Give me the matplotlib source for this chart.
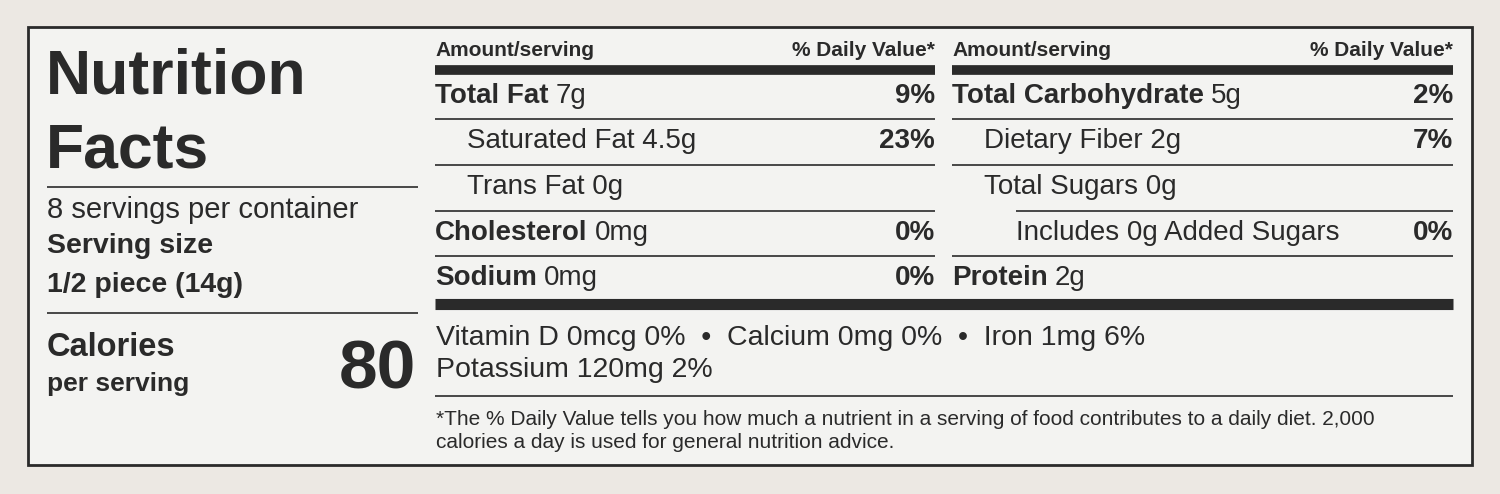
import matplotlib.pyplot as plt
from matplotlib.patches import Rectangle

INK = "#2a2a2a"
plt.rcParams["font.family"] = ["Liberation Sans", "DejaVu Sans"]

# ── data ─────────────────────────────────────────────
servings = "8 servings per container"
serving_size = "1/2 piece (14g)"
calories = "80"
left_names = ["Total Fat", "Saturated Fat", "Trans Fat", "Cholesterol", "Sodium"]
left_amts = ["7g", "4.5g", "0g", "0mg", "0mg"]
left_dv = ["9%", "23%", "", "0%", "0%"]
left_indent = [0, 1, 1, 0, 0]
right_names = ["Total Carbohydrate", "Dietary Fiber", "Total Sugars", "Includes 0g Added Sugars", "Protein"]
right_amts = ["5g", "2g", "0g", "", "2g"]
right_dv = ["2%", "7%", "", "0%", ""]
right_indent = [0, 1, 1, 2, 0]
vitamins_line1 = "Vitamin D 0mcg 0%  •  Calcium 0mg 0%  •  Iron 1mg 6%"
vitamins_line2 = "Potassium 120mg 2%"
footnote = ["*The % Daily Value tells you how much a nutrient in a serving of food contributes to a daily diet. 2,000",
            "calories a day is used for general nutrition advice."]

fig = plt.figure(figsize=(15, 4.94), dpi=100)
fig.patch.set_facecolor("#ece8e3")
ax = fig.add_axes([0, 0, 1, 1])
ax.set_xlim(0, 1500); ax.set_ylim(494, 0); ax.axis("off")
ax.add_patch(Rectangle((28, 27), 1444, 438, fc="#f3f3f1", ec=INK, lw=2))

def hline(y, x0, x1, lw):
    ax.plot([x0, x1], [y, y], color=INK, lw=lw, solid_capstyle="butt")

renderer = fig.canvas.get_renderer()
def rich(x, y, bold, rest, size):
    t = ax.text(x, y, bold, fontsize=size, fontweight="bold", color=INK, va="center")
    if rest:
        bb = t.get_window_extent(renderer)
        ax.text(x + bb.width + 7, y, rest, fontsize=size, color=INK, va="center")

# left block
ax.text(46, 77, "Nutrition", fontsize=45, fontweight="bold", color=INK, va="center")
ax.text(46, 151, "Facts", fontsize=45, fontweight="bold", color=INK, va="center")
hline(187, 47, 418, 1.2)
ax.text(47, 210, servings, fontsize=21, color=INK, va="center")
ax.text(47, 246, "Serving size", fontsize=20.5, fontweight="bold", color=INK, va="center")
ax.text(47, 285, serving_size, fontsize=20.5, fontweight="bold", color=INK, va="center")
hline(313, 47, 418, 1.2)
ax.text(47, 347, "Calories", fontsize=23.5, fontweight="bold", color=INK, va="center")
ax.text(47, 384, "per serving", fontsize=19, fontweight="bold", color=INK, va="center")
ax.text(416, 370, calories, fontsize=50, fontweight="bold", color=INK, va="center", ha="right")

rows_y = [96, 141, 187, 233, 278]
seps_y = [119, 165, 211, 256]
for x0, x1, names, amts, dvs, ind in [(435, 935, left_names, left_amts, left_dv, left_indent),
                                      (952, 1453, right_names, right_amts, right_dv, right_indent)]:
    ax.text(x0, 51, "Amount/serving", fontsize=15, fontweight="bold", color=INK, va="center")
    ax.text(x1, 51, "% Daily Value*", fontsize=15, fontweight="bold", color=INK, va="center", ha="right")
    hline(70, x0, x1, 7)
    for i, y in enumerate(rows_y):
        x = x0 + 32 * ind[i]
        if ind[i] == 0:
            rich(x, y, names[i], amts[i], 20)
        else:
            ax.text(x, y, (names[i] + " " + amts[i]).strip(), fontsize=20, color=INK, va="center")
        if dvs[i]:
            ax.text(x1, y, dvs[i], fontsize=20, fontweight="bold", color=INK, va="center", ha="right")
    for i, y in enumerate(seps_y):
        hline(y, x0 + 32 * ind[i + 1] if ind[i + 1] == 2 else x0, x1, 1.2)

hline(304, 435, 1453, 8)
ax.text(436, 338, vitamins_line1, fontsize=20.5, color=INK, va="center")
ax.text(436, 370, vitamins_line2, fontsize=20.5, color=INK, va="center")
hline(396, 435, 1453, 1.2)
ax.text(436, 419, footnote[0], fontsize=15, color=INK, va="center")
ax.text(436, 442, footnote[1], fontsize=15, color=INK, va="center")

fig.savefig("out.png", dpi=100, facecolor=fig.get_facecolor())
